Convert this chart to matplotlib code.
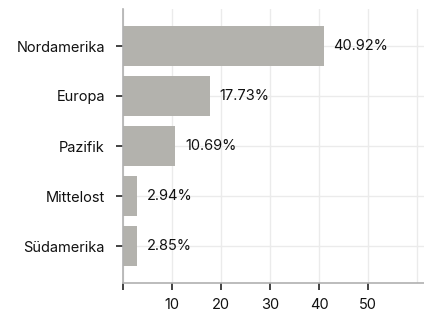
import matplotlib
matplotlib.use("Agg")
import matplotlib.pyplot as plt

regions = ["Nordamerika", "Europa", "Pazifik", "Mittelost", "Südamerika"]
shares = [40.92, 17.73, 10.69, 2.94, 2.85]
xticks = [0, 10, 20, 30, 40, 50]
xtick_labels = ["", "10", "20", "30", "40", "50"]

plt.rcParams['font.family'] = ['Inter', 'DejaVu Sans']
FS = 10.5

fig = plt.figure(figsize=(4.24, 3.11), dpi=100)
W, H = 424, 311
ax = fig.add_axes([123 / W, 1 - 283 / H, (424 - 123) / W, (283 - 9) / H])

n = len(regions)
ypos = list(range(n))[::-1]
ax.barh(ypos, shares, height=0.8, color="#b3b2ad", zorder=2)
for y, v in zip(ypos, shares):
    ax.text(v + 2, y, f"{v:.2f}%", va="center", ha="left", fontsize=FS, color="#111111", zorder=3)

ax.set_yticks(ypos)
ax.set_yticklabels(regions, fontsize=FS, color="#111111")
ax.set_xticks(xticks)
ax.set_xticklabels(xtick_labels, fontsize=FS, color="#111111")
ax.set_xticks([60], minor=True)
ax.set_xlim(0, 61.4)
ax.set_ylim(-0.74, n - 1 + 0.74)

ax.grid(True, which="both", color="#ebebeb", linewidth=1, zorder=0)
ax.tick_params(axis="x", which="minor", length=0)
ax.tick_params(axis="both", which="major", length=5, width=1.2, color="#222222", pad=6)
ax.tick_params(axis="y", pad=8)
for s in ["top", "right"]:
    ax.spines[s].set_visible(False)
ax.spines["left"].set_color("#b0b0b0")
ax.spines["bottom"].set_color("#b0b0b0")
ax.spines["left"].set_linewidth(1.2)
ax.spines["bottom"].set_linewidth(1.2)
ax.set_axisbelow(True)

fig.savefig("out.png", dpi=100)
